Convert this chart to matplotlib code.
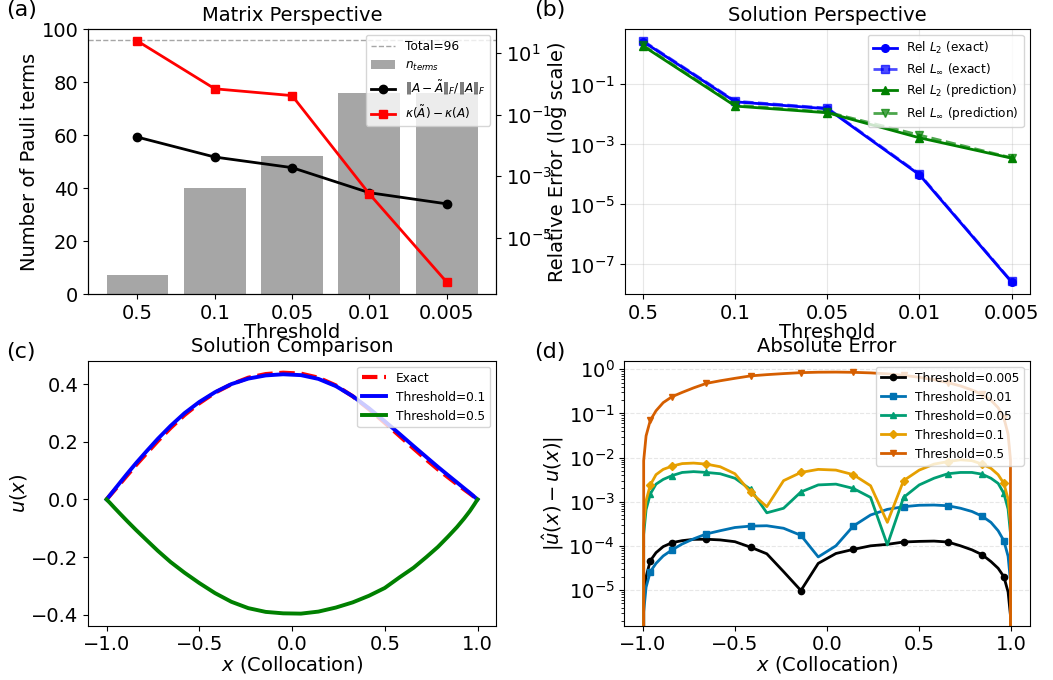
import matplotlib.pyplot as plt
import matplotlib.ticker as mticker
import numpy as np

plt.rcParams["font.size"] = 14
plt.rcParams["legend.fontsize"] = 8.7
plt.rcParams["axes.labelpad"] = 1.5

# thresholds used to truncate the Pauli decomposition
thresholds = ["0.5", "0.1", "0.05", "0.01", "0.005"]
n_terms = [7, 40, 52, 76, 76]
total_terms = 96
frob_err = [1.87e-2, 4.2e-3, 1.9e-3, 2.9e-4, 1.26e-4]
kappa_diff = [25.0, 0.70, 0.42, 2.65e-4, 3.6e-7]

# relative solution errors
rel_l2_exact = [2.65, 2.64e-2, 1.55e-2, 9.75e-5, 2.6e-8]
rel_linf_exact = [2.8, 2.78e-2, 1.63e-2, 1.03e-4, 2.7e-8]
rel_l2_pred = [1.9, 1.9e-2, 1.14e-2, 1.67e-3, 3.5e-4]
rel_linf_pred = [2.0, 2.05e-2, 1.2e-2, 2.05e-3, 3.6e-4]

# Chebyshev collocation points
x_col = [-1.0, -0.995, -0.982, -0.959, -0.928, -0.889, -0.841, -0.786, -0.724,
         -0.655, -0.580, -0.500, -0.415, -0.327, -0.236, -0.142, -0.048,
         0.048, 0.142, 0.236, 0.327, 0.415, 0.500, 0.580, 0.655, 0.724,
         0.786, 0.841, 0.889, 0.928, 0.959, 0.982, 0.995, 1.0]

u_exact = [0.0, 0.0037, 0.0135, 0.0306, 0.0539, 0.0836, 0.1196, 0.1587, 0.2025,
           0.2479, 0.2928, 0.3337, 0.3704, 0.3992, 0.4220, 0.4346, 0.4394,
           0.4362, 0.4221, 0.3953, 0.3577, 0.3130, 0.2658, 0.2199, 0.1769,
           0.1381, 0.1045, 0.0769, 0.0533, 0.0344, 0.0199, 0.0087, 0.0024, 0.0]
u_thr01 = [0.0, 0.004, 0.0145, 0.033, 0.058, 0.089, 0.126, 0.166, 0.210,
           0.255, 0.299, 0.338, 0.372, 0.400, 0.419, 0.430, 0.434,
           0.431, 0.418, 0.393, 0.358, 0.316, 0.271, 0.227, 0.185,
           0.147, 0.113, 0.084, 0.059, 0.0385, 0.0225, 0.0098, 0.0027, 0.0]
u_thr05 = [0.0, -0.0035, -0.012, -0.028, -0.049, -0.075, -0.106, -0.140, -0.178,
           -0.217, -0.254, -0.290, -0.325, -0.355, -0.377, -0.390, -0.395,
           -0.396, -0.389, -0.375, -0.357, -0.334, -0.307, -0.270, -0.237,
           -0.200, -0.165, -0.129, -0.096, -0.066, -0.040, -0.018, -0.005, 0.0]

# pointwise absolute errors per threshold
err_0005 = [0.0, 6e-6, 2.0e-5, 4.6e-5, 7.0e-5, 9.6e-5, 1.18e-4, 1.31e-4, 1.40e-4,
            1.41e-4, 1.36e-4, 1.24e-4, 9.3e-5, 6.6e-5, 2.6e-5, 9.7e-6, 4.0e-5,
            6.7e-5, 8.3e-5, 1.0e-4, 1.08e-4, 1.22e-4, 1.26e-4, 1.28e-4, 1.22e-4,
            1.0e-4, 8.1e-5, 6.3e-5, 4.4e-5, 3.1e-5, 2.0e-5, 9.0e-6, 2.6e-6, 0.0]
err_001 = [0.0, 3.2e-6, 1.15e-5, 2.6e-5, 4.0e-5, 5.9e-5, 8.1e-5, 1.1e-4, 1.44e-4,
           1.86e-4, 2.2e-4, 2.6e-4, 2.8e-4, 2.85e-4, 2.5e-4, 1.73e-4, 5.6e-5,
           1.0e-4, 2.8e-4, 5.0e-4, 6.7e-4, 7.7e-4, 8.3e-4, 8.4e-4, 8.1e-4,
           7.1e-4, 6.0e-4, 4.7e-4, 3.4e-4, 2.2e-4, 1.31e-4, 5.8e-5, 1.6e-5, 0.0]
err_005 = [0.0, 1.8e-4, 6.6e-4, 1.5e-3, 2.5e-3, 3.2e-3, 3.9e-3, 4.6e-3, 4.8e-3,
           4.6e-3, 4.3e-3, 3.4e-3, 1.9e-3, 5.6e-4, 7.1e-4, 1.66e-3, 2.4e-3,
           2.5e-3, 2.0e-3, 1.25e-3, 1.05e-4, 1.25e-3, 2.4e-3, 3.4e-3, 4.3e-3,
           4.6e-3, 4.6e-3, 4.2e-3, 3.4e-3, 2.6e-3, 1.55e-3, 6.8e-4, 1.9e-4, 0.0]
err_01 = [0.0, 2.9e-4, 1.05e-3, 2.4e-3, 4.1e-3, 5.4e-3, 6.4e-3, 7.3e-3, 7.5e-3,
          7.1e-3, 6.2e-3, 4.3e-3, 1.63e-3, 7.7e-4, 3.0e-3, 4.6e-3, 5.4e-3,
          5.2e-3, 4.1e-3, 2.3e-3, 3.4e-4, 3.0e-3, 5.2e-3, 7.1e-3, 8.1e-3,
          8.9e-3, 8.5e-3, 7.1e-3, 5.7e-3, 4.1e-3, 2.6e-3, 1.15e-3, 3.2e-4, 0.0]
err_05 = [0.0, 0.0085, 0.031, 0.07, 0.115, 0.176, 0.24, 0.30, 0.38,
          0.48, 0.55, 0.625, 0.71, 0.757, 0.80, 0.84, 0.86,
          0.865, 0.855, 0.83, 0.79, 0.73, 0.66, 0.58, 0.50,
          0.42, 0.34, 0.27, 0.20, 0.135, 0.08, 0.034, 0.009, 0.0]

pos = np.arange(len(thresholds))

fig = plt.figure(figsize=(10.53, 6.8), dpi=100)
ax_a = fig.add_axes([0.0836, 0.5676, 0.3875, 0.3897])
ax_b = fig.add_axes([0.5935, 0.5676, 0.3846, 0.3897])
ax_c = fig.add_axes([0.0836, 0.0799, 0.3875, 0.3897])
ax_d = fig.add_axes([0.5929, 0.0799, 0.3851, 0.3897])

# (a) matrix perspective
h_tot = ax_a.axhline(total_terms, color="gray", ls="--", lw=1, alpha=0.7,
                     label=f"Total={total_terms}")
h_bar = ax_a.bar(pos, n_terms, width=0.8, color="gray", alpha=0.7,
                 label=r"$n_{terms}$")
ax_a.set_xticks(pos)
ax_a.set_xticklabels(thresholds)
ax_a.set_ylim(0, 100)
ax_a.set_xlabel("Threshold", labelpad=0)
ax_a.set_ylabel("Number of Pauli terms")
ax_a.set_title("Matrix Perspective", fontsize=14)
ax_a2 = ax_a.twinx()
h_fro, = ax_a2.plot(pos, frob_err, "k-o", lw=2, ms=6,
                    label=r"$\|A-\tilde{A}\|_F/\|A\|_F$")
h_kap, = ax_a2.plot(pos, kappa_diff, "r-s", lw=2, ms=6,
                    label=r"$\kappa(\tilde{A})-\kappa(A)$")
ax_a2.set_yscale("log")
ax_a2.legend(handles=[h_tot, h_bar, h_fro, h_kap], loc="upper right")

# (b) solution perspective
ax_b.plot(pos, rel_l2_exact, "b-o", lw=2, ms=5.5, label=r"Rel $L_2$ (exact)")
ax_b.plot(pos, rel_linf_exact, "b--s", lw=2, ms=5.5, alpha=0.7,
          label=r"Rel $L_\infty$ (exact)")
ax_b.plot(pos, rel_l2_pred, "g-^", lw=2, ms=5.5, label=r"Rel $L_2$ (prediction)")
ax_b.plot(pos, rel_linf_pred, "g--v", lw=2, ms=5.5, alpha=0.7,
          label=r"Rel $L_\infty$ (prediction)")
ax_b.set_yscale("log")
ax_b.set_yticks([1e-7, 1e-5, 1e-3, 1e-1])
ax_b.yaxis.set_minor_locator(mticker.NullLocator())
ax_b.set_xticks(pos)
ax_b.set_xticklabels(thresholds)
ax_b.set_xlabel("Threshold", labelpad=0)
ax_b.set_ylabel("Relative Error (log scale)")
ax_b.set_title("Solution Perspective", fontsize=14)
ax_b.grid(True, alpha=0.3)
ax_b.legend(loc="upper right")

# (c) solution comparison
ax_c.plot(x_col, u_exact, "r--", lw=3, label="Exact")
ax_c.plot(x_col, u_thr01, color="blue", lw=2.8, label="Threshold=0.1")
ax_c.plot(x_col, u_thr05, color="green", lw=2.8, label="Threshold=0.5")
ax_c.set_xlabel(r"$x$ (Collocation)", labelpad=0)
ax_c.set_ylabel(r"$u(x)$")
ax_c.set_title("Solution Comparison", fontsize=14)
ax_c.legend(loc="upper right")

# (d) pointwise absolute error
err_series = [("Threshold=0.005", err_0005, "#000000", "o"),
              ("Threshold=0.01", err_001, "#0072B2", "s"),
              ("Threshold=0.05", err_005, "#009E73", "^"),
              ("Threshold=0.1", err_01, "#E69F00", "D"),
              ("Threshold=0.5", err_05, "#D55E00", "v")]
for label, err, color, marker in err_series:
    ax_d.plot(x_col, err, color=color, marker=marker, markevery=3, ms=4.5,
              lw=2, label=label)
ax_d.set_yscale("log")
ax_d.set_ylim(1.55e-6, 1.57)
ax_d.set_xlabel(r"$x$ (Collocation)", labelpad=0)
ax_d.set_ylabel(r"$|\hat{u}(x)-u(x)|$")
ax_d.set_title("Absolute Error", fontsize=14)
ax_d.grid(True, axis="y", ls="--", alpha=0.3)
ax_d.legend(loc="upper right")

# panel tags
fig.text(0.006, 0.985, "(a)", fontsize=16, va="center")
fig.text(0.507, 0.985, "(b)", fontsize=16, va="center")
fig.text(0.006, 0.483, "(c)", fontsize=16, va="center")
fig.text(0.507, 0.483, "(d)", fontsize=16, va="center")

fig.savefig("out.png", dpi=100)
